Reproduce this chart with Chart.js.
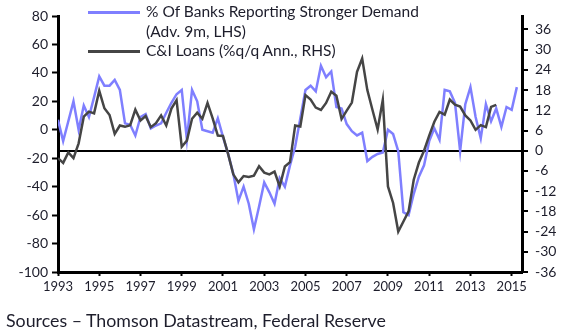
<!DOCTYPE html>
<html>
<head>
<meta charset="utf-8">
<script src="https://cdn.jsdelivr.net/npm/chart.js@4.4.0/dist/chart.umd.min.js"></script>
<style>
  html, body { margin: 0; padding: 0; background: #fff; }
  #wrap { position: relative; width: 586px; height: 331px; font-family: Lato, sans-serif; color: #1d1d2b; }
  #chart { position: absolute; left: 0; top: 0; }
  .key { position: absolute; left: 88px; width: 52px; height: 3px; }
  .label { position: absolute; left: 146px; font-size: 15.5px; line-height: 19.5px; white-space: nowrap; }
  #source { position: absolute; left: 6px; top: 310px; font-size: 17.8px; line-height: 21px; white-space: nowrap; }
</style>
</head>
<body>
<div id="wrap">
  <canvas id="chart" width="586" height="331"></canvas>
  <div class="key" style="top:11px; background:#7f7fff"></div>
  <div class="label" style="top:2px">% Of Banks Reporting Stronger Demand<br>(Adv. 9m, LHS)</div>
  <div class="key" style="top:49.5px; background:#454545"></div>
  <div class="label" style="top:41px">C&amp;I Loans (%q/q Ann., RHS)</div>
  <div id="source">Sources – Thomson Datastream, Federal Reserve</div>
</div>
<script>
// quarterly observations, first one in 1993 Q1
const startYear = 1993;

// % of banks reporting stronger C&I loan demand, pushed forward 9 months (LHS)
const demandBalance = [
  7, -8, 6, 20, 0, 17, 9, 23, 37.5, 31, 31, 35, 28, 4.5, 3.5, -4,
  9, 11, 1, 3, 4.5, 12, 19, 25, 28, -7, 28, 20, 0, -1, -2, 8,
  -5, -17, -31, -50, -40, -52, -70, -54, -37, -44, -52, -34, -40, -25, -12, 8,
  28, 31, 27, 45, 37, 41, 16, 15, 4, -1, -4, -2, -22, -19, -17, -16,
  0, -3, -15, -58, -60, -45, -33, -25, -8, 1, -7, 28, 27, 19, -15, 18,
  30, 9, -6, 18, 6, 15, 2, 16, 14, 30
];

// C&I loans, % q/q annualised (RHS)
const loanGrowth = [
  -2.2, -3.6, -0.5, -2.2, 2.2, 10.1, 11.6, 11.1, 17.8, 12.6, 10.6, 5, 7.5, 7.1, 7.6, 12.2,
  9, 10.3, 7, 8.2, 10.5, 7.5, 12.5, 15, 1.2, 3, 9.5, 11.3, 9.5, 14.2, 9.6, 4.5,
  4.4, -1, -7, -9.4, -7.5, -7.8, -7.4, -4.6, -6.5, -7, -6.2, -10.6, -4.7, -3.4, 7.5, 7.2,
  16.5, 15.2, 12.8, 12.1, 14.2, 17.5, 16.3, 9.4, 11.9, 14.3, 23.4, 27.4, 18, 12.1, 6.3, 15.1,
  -10.6, -15.5, -24, -21, -18, -8.6, -3.5, 0, 4.5, 8.6, 11.5, 10.7, 15.2, 13.7, 13.1, 10.5,
  9, 6.2, 7.6, 7, 13, 13.6
];

const yearTicks = [1993, 1995, 1997, 1999, 2001, 2003, 2005, 2007, 2009, 2011, 2013, 2015];
const lhsTicks = [-100, -80, -60, -40, -20, 0, 20, 40, 60, 80];
const rhsTicks = [-36, -30, -24, -18, -12, -6, 0, 6, 12, 18, 24, 30, 36];

const toPoints = vals => vals.map((v, i) => ({ x: startYear + i / 4, y: v }));

const textColor = '#1d1d2b';
const tickFont = { family: 'Lato', size: 14 };

new Chart(document.getElementById('chart'), {
  type: 'line',
  data: {
    datasets: [
      {
        label: 'C&I Loans (%q/q Ann., RHS)',
        data: toPoints(loanGrowth),
        yAxisID: 'yR',
        borderColor: '#454545',
        borderWidth: 2.5,
        pointRadius: 0,
        order: 1
      },
      {
        label: '% Of Banks Reporting Stronger Demand (Adv. 9m, LHS)',
        data: toPoints(demandBalance),
        yAxisID: 'yL',
        borderColor: '#7f7fff',
        borderWidth: 2.5,
        pointRadius: 0,
        order: 2
      }
    ]
  },
  options: {
    responsive: false,
    animation: false,
    devicePixelRatio: 1,
    layout: { padding: { top: 16, bottom: 34, left: 0, right: 0 } },
    plugins: { legend: { display: false }, tooltip: { enabled: false } },
    scales: {
      x: {
        type: 'linear',
        min: 1993,
        max: 2015.5,
        afterBuildTicks: s => { s.ticks = yearTicks.map(v => ({ value: v })); },
        afterFit: s => { s.height = 25; },
        ticks: { font: { family: 'Lato', size: 13 }, color: textColor, padding: 3, maxRotation: 0, autoSkip: false, callback: v => String(v) },
        grid: { drawOnChartArea: false, tickLength: 4, tickWidth: 2, tickColor: '#000' },
        border: { width: 3, color: '#000' }
      },
      yL: {
        position: 'left',
        min: -100,
        max: 80,
        afterBuildTicks: s => { s.ticks = lhsTicks.map(v => ({ value: v })); },
        afterFit: s => { s.width = 58; },
        ticks: { font: tickFont, color: textColor, padding: 4 },
        grid: { drawOnChartArea: false, tickLength: 6, tickWidth: 2, tickColor: '#000' },
        border: { width: 3, color: '#000' }
      },
      yR: {
        position: 'right',
        min: -36,
        max: 40,
        afterBuildTicks: s => { s.ticks = rhsTicks.map(v => ({ value: v })); },
        afterFit: s => { s.width = 64; },
        ticks: { font: tickFont, color: textColor, padding: 7 },
        grid: {
          drawOnChartArea: true,
          color: c => (c.tick && c.tick.value === 0 ? '#000' : 'rgba(0,0,0,0)'),
          lineWidth: 2,
          tickLength: 6,
          tickWidth: 2,
          tickColor: '#000'
        },
        border: { width: 3, color: '#000' }
      }
    }
  }
});
</script>
</body>
</html>
